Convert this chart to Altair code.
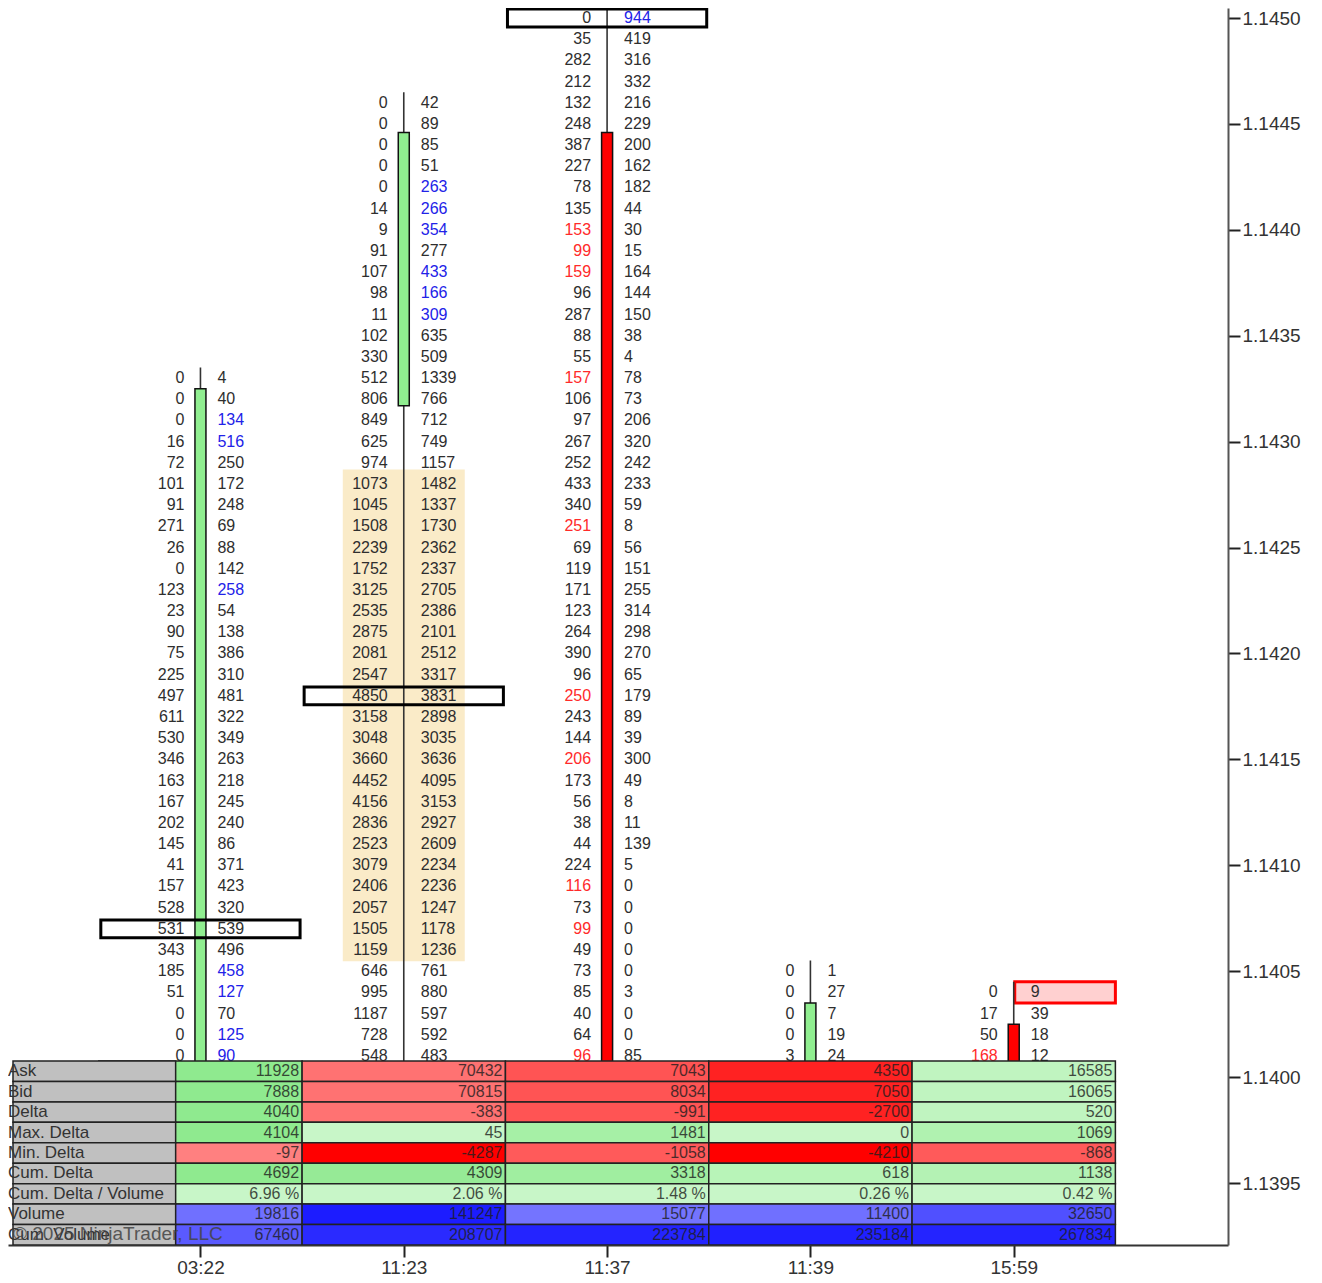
import json
import altair as alt
import pandas as pd

# ---------------- data ----------------
TIMES = ["03:22", "11:23", "11:37", "11:39", "15:59"]
TOP_PRICE = [1.1433, 1.1446, 1.1450, 1.1405, 1.1404]
TICK = 0.0001
Y_TICKS = [1.1395, 1.1400, 1.1405, 1.1410, 1.1415, 1.1420, 1.1425,
           1.1430, 1.1435, 1.1440, 1.1445, 1.1450]

BID_0 = [0, 0, 0, 16, 72, 101, 91, 271, 26, 0, 123, 23, 90, 75, 225, 497, 611,
         530, 346, 163, 167, 202, 145, 41, 157, 528, 531, 343, 185, 51, 0, 0, 0]
ASK_0 = [4, 40, 134, 516, 250, 172, 248, 69, 88, 142, 258, 54, 138, 386, 310, 481,
         322, 349, 263, 218, 245, 240, 86, 371, 423, 320, 539, 496, 458, 127, 70, 125, 90]
BID_1 = [0, 0, 0, 0, 0, 14, 9, 91, 107, 98, 11, 102, 330, 512, 806, 849, 625, 974,
         1073, 1045, 1508, 2239, 1752, 3125, 2535, 2875, 2081, 2547, 4850, 3158, 3048,
         3660, 4452, 4156, 2836, 2523, 3079, 2406, 2057, 1505, 1159, 646, 995, 1187,
         728, 548]
ASK_1 = [42, 89, 85, 51, 263, 266, 354, 277, 433, 166, 309, 635, 509, 1339, 766, 712,
         749, 1157, 1482, 1337, 1730, 2362, 2337, 2705, 2386, 2101, 2512, 3317, 3831,
         2898, 3035, 3636, 4095, 3153, 2927, 2609, 2234, 2236, 1247, 1178, 1236, 761,
         880, 597, 592, 483]
BID_2 = [0, 35, 282, 212, 132, 248, 387, 227, 78, 135, 153, 99, 159, 96, 287, 88, 55,
         157, 106, 97, 267, 252, 433, 340, 251, 69, 119, 171, 123, 264, 390, 96, 250,
         243, 144, 206, 173, 56, 38, 44, 224, 116, 73, 99, 49, 73, 85, 40, 64, 96]
ASK_2 = [944, 419, 316, 332, 216, 229, 200, 162, 182, 44, 30, 15, 164, 144, 150, 38,
         4, 78, 73, 206, 320, 242, 233, 59, 8, 56, 151, 255, 314, 298, 270, 65, 179,
         89, 39, 300, 49, 8, 11, 139, 5, 0, 0, 0, 0, 0, 3, 0, 0, 85]
BID_3 = [0, 0, 0, 0, 3]
ASK_3 = [1, 27, 7, 19, 24]
BID_4 = [0, 17, 50, 168]
ASK_4 = [9, 39, 18, 12]

# imbalance rows (0-based from the top row of each bar)
ASK_IMB = [[2, 3, 10, 28, 29, 31, 32], [4, 5, 6, 8, 9, 10], [0], [], []]
BID_IMB = [[], [], [10, 11, 12, 17, 24, 32, 35, 41, 43, 49], [], [3]]

CANDLE_OPEN = [1.1393, 1.14317, 1.14446, 1.1393, 1.14025]
CANDLE_CLOSE = [1.14325, 1.14446, 1.1393, 1.14035, 1.1393]
CANDLE_HIGH = [1.14335, 1.14465, 1.14508, 1.14055, 1.14045]
CANDLE_LOW = [1.1393, 1.1393, 1.1393, 1.1393, 1.1393]

POC_BAR = [0, 1, 2]
POC_PRICE = [1.1407, 1.1418, 1.1450]
VA_BAR = [1]
VA_HIGH = [1.1428]
VA_LOW = [1.1406]
MARK_BAR = [4]
MARK_PRICE = [1.1404]

ROW_NAMES = ["Ask", "Bid", "Delta", "Max. Delta", "Min. Delta", "Cum. Delta",
             "Cum. Delta / Volume", "Volume", "Cum. Volume"]
ASK_TOT = [11928, 70432, 7043, 4350, 16585]
BID_TOT = [7888, 70815, 8034, 7050, 16065]
DELTA = [4040, -383, -991, -2700, 520]
MAX_DELTA = [4104, 45, 1481, 0, 1069]
MIN_DELTA = [-97, -4287, -1058, -4210, -868]
CUM_DELTA = [4692, 4309, 3318, 618, 1138]
CUM_DELTA_PCT = [6.96, 2.06, 1.48, 0.26, 0.42]
VOLUME = [19816, 141247, 15077, 11400, 32650]
CUM_VOLUME = [67460, 208707, 223784, 235184, 267834]

# ---------------- styles ----------------
CELL_FILL = [
    ["#8fea8f", "#ff7272", "#ff5454", "#ff2222", "#c0f4c0"],
    ["#8fea8f", "#ff7272", "#ff5454", "#ff2222", "#c0f4c0"],
    ["#8fea8f", "#ff7272", "#ff5454", "#ff2222", "#c0f4c0"],
    ["#8fea8f", "#c8f6c8", "#a6f0a6", "#c8f6c8", "#b0f2b0"],
    ["#ff8080", "#ff0000", "#ff5a5a", "#ff0000", "#ff5a5a"],
    ["#8fea8f", "#96ea96", "#a0eea0", "#b8f4b8", "#b4f2b4"],
    ["#c8f6c8", "#c8f6c8", "#c8f6c8", "#c8f6c8", "#c8f6c8"],
    ["#7070ff", "#1c1cff", "#7474ff", "#7070ff", "#5050ff"],
    ["#5a5aff", "#2a2aff", "#2424ff", "#2020ff", "#2424ff"],
]
INK = "#2e2e2e"
BLUE = "#2222e8"
RED = "#ff2a2a"
FONT = "Liberation Sans"

# scale geometry
PLOT_W = 1220
PLOT_H = 1237
D0 = -189 / 205
D1 = D0 + PLOT_W / 205
LABEL_EDGE = -0.122
PX_PER_PRICE = 1165 / 0.0055
Y_MAX = 1.1450 + 10 / PX_PER_PRICE
Y_MIN = Y_MAX - PLOT_H / PX_PER_PRICE
TABLE_DOMAIN = PLOT_H / 20.44

# ---------------- frames ----------------
BIDS = [BID_0, BID_1, BID_2, BID_3, BID_4]
ASKS = [ASK_0, ASK_1, ASK_2, ASK_3, ASK_4]
rows = []
for b in range(5):
    for k in range(len(BIDS[b])):
        rows.append(dict(
            bar=b, price=round(TOP_PRICE[b] - k * TICK, 5),
            bid=str(BIDS[b][k]), ask=str(ASKS[b][k]),
            bid_col=RED if k in BID_IMB[b] else INK,
            ask_col=BLUE if k in ASK_IMB[b] else INK))
fp = pd.DataFrame(rows)

candles = pd.DataFrame(dict(bar=range(5), open=CANDLE_OPEN, close=CANDLE_CLOSE,
                            high=CANDLE_HIGH, low=CANDLE_LOW))
candles["fill"] = ["#90ee90" if c > o else "#ff0000"
                   for o, c in zip(CANDLE_OPEN, CANDLE_CLOSE)]

poc = pd.DataFrame(dict(bar=POC_BAR, price=POC_PRICE))
poc["x0"] = poc.bar - 0.49
poc["x1"] = poc.bar + 0.49
poc["y0"] = poc.price - 0.42 * TICK
poc["y1"] = poc.price + 0.42 * TICK

va = pd.DataFrame(dict(bar=VA_BAR, hi=VA_HIGH, lo=VA_LOW))
va["x0"] = va.bar - 0.3
va["x1"] = va.bar + 0.3
va["y0"] = va.lo - 0.53 * TICK
va["y1"] = va.hi + 0.68 * TICK

mk = pd.DataFrame(dict(bar=MARK_BAR, price=MARK_PRICE))
mk["x0"] = mk.bar + 0.005
mk["x1"] = mk.bar + 0.5
mk["y0"] = mk.price - 0.5 * TICK
mk["y1"] = mk.price + 0.5 * TICK

TABLE_VALUES = [
    [str(v) for v in ASK_TOT],
    [str(v) for v in BID_TOT],
    [str(v) for v in DELTA],
    [str(v) for v in MAX_DELTA],
    [str(v) for v in MIN_DELTA],
    [str(v) for v in CUM_DELTA],
    [f"{v:.2f} %" for v in CUM_DELTA_PCT],
    [str(v) for v in VOLUME],
    [str(v) for v in CUM_VOLUME],
]
cells = []
labels = []
n = len(ROW_NAMES)
for r, name in enumerate(ROW_NAMES):
    for b in range(5):
        cells.append(dict(x0=b - 0.5, x1=b + 0.5, r0=n - 1 - r, r1=n - r,
                          rc=n - r - 0.5, fill=CELL_FILL[r][b], txt=TABLE_VALUES[r][b]))
    labels.append(dict(x0=D0, x1=LABEL_EDGE, r0=n - 1 - r, r1=n - r,
                       rc=n - r - 0.5, label=name))
cells = pd.DataFrame(cells)
labels = pd.DataFrame(labels)
wm = pd.DataFrame(dict(x0=[D0], rc=[0.5], txt=["\u00a9 2025 NinjaTrader, LLC"]))

# ---------------- encodings ----------------
XS = alt.Scale(domain=[D0, D1], nice=False, zero=False)
XAX = alt.Axis(values=[0, 1, 2, 3, 4], labelExpr=f"{json.dumps(TIMES)}[datum.value]",
               title=None, grid=False, tickSize=12, tickWidth=2, tickColor="#222",
               domainColor="#333", domainWidth=2, labelFontSize=19, labelFont=FONT,
               labelColor="#333", labelPadding=1)
YS = alt.Scale(domain=[Y_MIN, Y_MAX], nice=False, zero=False)
YAX = alt.Axis(orient="right", values=Y_TICKS, format=".4f", title=None, grid=False,
               tickSize=12, tickWidth=2, tickColor="#222", domainColor="#555",
               domainWidth=2, labelFontSize=19, labelFont=FONT, labelColor="#333",
               labelPadding=2)
TS = alt.Scale(domain=[0, TABLE_DOMAIN], nice=False, zero=False)


def X(f):
    return alt.X(f"{f}:Q", scale=XS, axis=XAX)


def Y(f):
    return alt.Y(f"{f}:Q", scale=YS, axis=YAX)


def YT(f):
    return alt.Y(f"{f}:Q", scale=TS, axis=None)


va_layer = alt.Chart(va).mark_rect(color="#faebc8", clip=True).encode(
    x=X("x0"), x2="x1", y=Y("y0"), y2="y1")
mk_layer = alt.Chart(mk).mark_rect(fill="#ffd0d0", stroke="#ff0000", strokeWidth=3,
                                   clip=True).encode(x=X("x0"), x2="x1", y=Y("y0"), y2="y1")
bid_text = alt.Chart(fp).mark_text(align="right", baseline="middle", dx=-16, font=FONT,
                                   fontSize=16, clip=True).encode(
    x=X("bar"), y=Y("price"), text="bid:N", color=alt.Color("bid_col:N", scale=None))
ask_text = alt.Chart(fp).mark_text(align="left", baseline="middle", dx=17, font=FONT,
                                   fontSize=16, clip=True).encode(
    x=X("bar"), y=Y("price"), text="ask:N", color=alt.Color("ask_col:N", scale=None))
wick = alt.Chart(candles).mark_rule(color="#333", strokeWidth=1.6, clip=True).encode(
    x=X("bar"), y=Y("low"), y2="high")
body = alt.Chart(candles).mark_bar(size=11, stroke="#111", strokeWidth=1.5, clip=True).encode(
    x=X("bar"), y=Y("open"), y2="close", color=alt.Color("fill:N", scale=None))
poc_layer = alt.Chart(poc).mark_rect(fillOpacity=0, stroke="#000", strokeWidth=3,
                                     clip=True).encode(x=X("x0"), x2="x1", y=Y("y0"), y2="y1")

price_layer = alt.layer(va_layer, mk_layer, bid_text, ask_text, wick, body, poc_layer)

cell_layer = alt.Chart(cells).mark_rect(stroke="#222", strokeWidth=1.5, clip=True).encode(
    x=X("x0"), x2="x1", y=YT("r0"), y2="r1", color=alt.Color("fill:N", scale=None))
cell_text = alt.Chart(cells).mark_text(align="right", baseline="middle", dx=-3, font=FONT,
                                       fontSize=16, color="#1e1e1e", opacity=0.8,
                                       clip=True).encode(x=X("x1"), y=YT("rc"), text="txt:N")
label_cells = alt.Chart(labels).mark_rect(fill="#c0c0c0", stroke="#222", strokeWidth=1.5,
                                          clip=True).encode(
    x=X("x0"), x2="x1", y=YT("r0"), y2="r1")
label_text = alt.Chart(labels).mark_text(align="left", baseline="middle", dx=-5, font=FONT,
                                         fontSize=17, color="#333", clip=True).encode(
    x=X("x0"), y=YT("rc"), text="label:N")
wm_text = alt.Chart(wm).mark_text(align="left", baseline="middle", dx=0, dy=-1, font=FONT,
                                  fontSize=19, color="#444", opacity=0.85, clip=True).encode(
    x=X("x0"), y=YT("rc"), text="txt:N")

table_layer = alt.layer(cell_layer, cell_text, label_cells, label_text, wm_text)

chart = alt.layer(price_layer, table_layer).resolve_scale(y="independent").properties(
    width=PLOT_W, height=PLOT_H, background="white",
    autosize=alt.AutoSizeParams(type="none"),
    padding={"left": 0, "top": 0, "right": 84, "bottom": 34},
).configure_view(stroke=None)

chart.save("out.html", embed_options={"renderer": "svg", "actions": False})
